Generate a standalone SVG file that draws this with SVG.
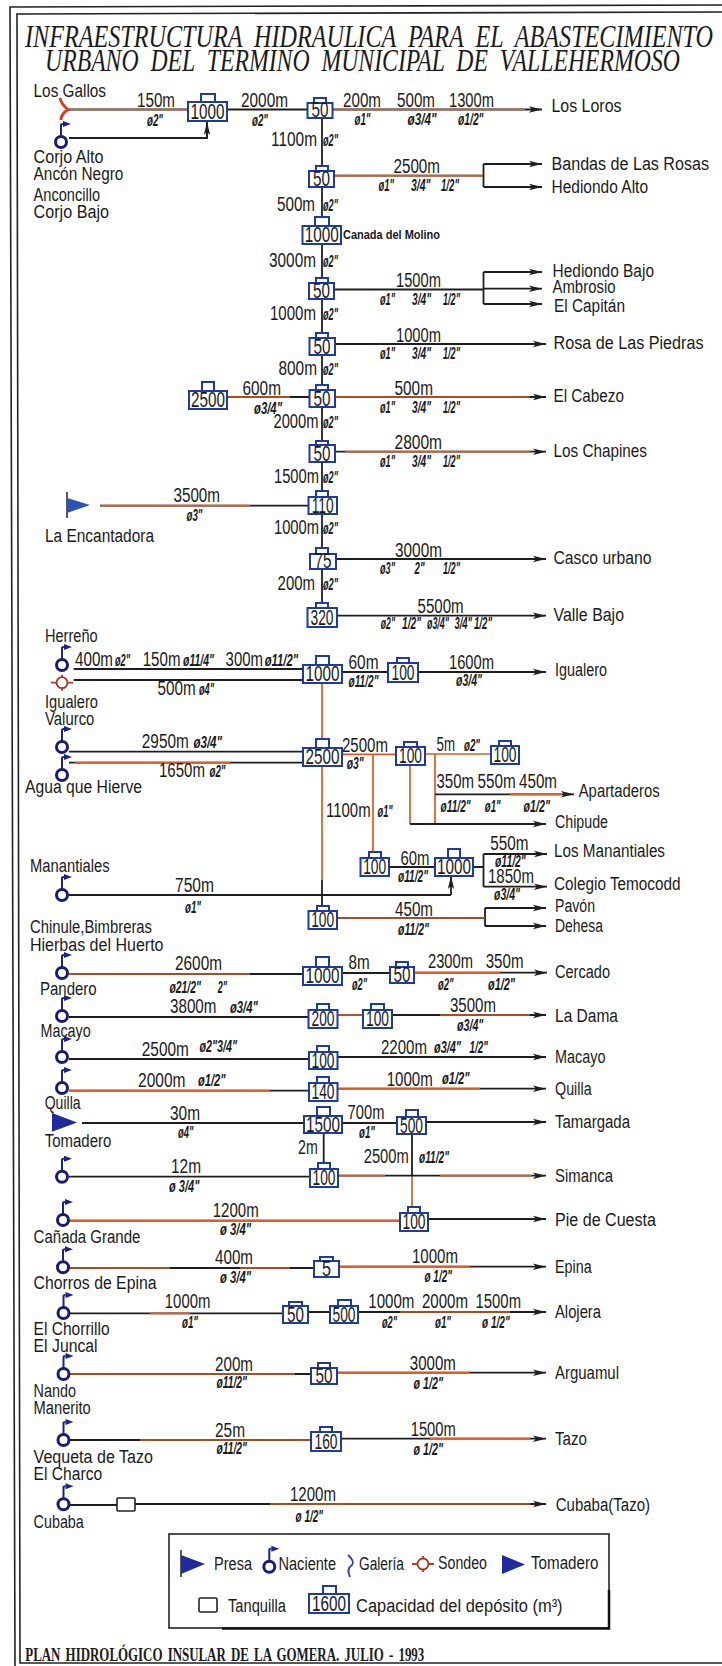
<svg xmlns="http://www.w3.org/2000/svg" width="722" height="1666" viewBox="0 0 722 1666">
<style>
text{font-family:"Liberation Sans",Arial,sans-serif;fill:#1a1a1a}
.ttl{font-family:"Liberation Serif","Times New Roman",serif;font-style:italic;font-size:32px;word-spacing:.25em}
.foot{font-family:"Liberation Serif","Times New Roman",serif;font-size:19px;font-weight:bold;word-spacing:.15em}
.m{font-size:19.5px}
.n{font-size:18px}
.d{font-size:17px;font-weight:bold;font-style:italic}
.s{font-size:12px;font-weight:bold}
.tv{font-size:22px;text-anchor:middle}
.tk{fill:#fff;stroke:#1c3aa8;stroke-width:2}
.p{fill:none;stroke:#1e1e1e;stroke-width:1.8}
.a{fill:none;stroke:#1e1e1e;stroke-width:1.8;marker-end:url(#ah)}
.h{fill:none;stroke:#dc5a22;stroke-width:1.7}
.f{fill:none;stroke:#222;stroke-width:1.6}
.bl{fill:#1f2a9c}
</style>
<defs>
<marker id="ah" markerUnits="userSpaceOnUse" markerWidth="14" markerHeight="8" refX="13" refY="4" orient="auto"><path d="M0 .8L13 4 0 7.2 3 4Z" fill="#1e1e1e"/></marker>
<g id="nac"><path d="M0-6V-17Q0-18 2-18" fill="none" stroke="#1b2488" stroke-width="2"/><path d="M2-21L10-18 2-15Z" fill="#1b2488"/><circle r="5.5" fill="#fff" stroke="#161c78" stroke-width="3"/></g>
<g id="son"><circle r="5.5" fill="#fff" stroke="#a8321e" stroke-width="1.8"/><path d="M-11 0H-5.5M5.5 0H11M0-8V-5.5M0 5.5V8" stroke="#b93a22" stroke-width="1.8" fill="none"/></g>
</defs>
<rect width="722" height="1666" fill="#fff"/>
<g id="frame">
<path class="f" d="M722 5L10 7 15 1666"/>
<path class="f" d="M722 12L17 14 20 1663H722"/>
</g>
<g id="title">
<text class="ttl" x="25" y="46.5" textLength="688" lengthAdjust="spacingAndGlyphs">INFRAESTRUCTURA HIDRAULICA PARA EL ABASTECIMIENTO</text>
<text class="ttl" x="45" y="71" textLength="635" lengthAdjust="spacingAndGlyphs">URBANO DEL TERMINO MUNICIPAL DE VALLEHERMOSO</text>
</g>
<g id="connectors">
<path class="a" d="M69 109.5H542"/>
<path class="h" d="M69 109.5H188M334 109.5H525"/>
<path class="p" d="M69 138H207V124"/><path class="a" d="M207 138V122"/>
<path class="p" d="M322 118V608"/>
<path class="p" d="M334 175.7H483.5M483.5 164V187"/><path class="a" d="M483.5 164H542"/><path class="a" d="M483.5 187H542"/>
<path class="h" d="M334 175.7H483"/>
<path class="p" d="M334 289.5H483.5M483.5 272V304"/><path class="a" d="M483.5 272H542"/><path class="a" d="M483.5 288.7H542"/><path class="a" d="M483.5 304H542"/>
<path class="a" d="M334 344H546"/>
<path class="a" d="M227 397H546"/><path class="h" d="M227 397H290M334 397H530"/>
<path class="a" d="M334 451.7H546"/><path class="h" d="M345 451.7H530"/>
<path class="p" d="M100 505.7H309"/><path class="h" d="M100 505.7H250"/>
<path class="a" d="M334 559H546"/>
<path class="a" d="M337 615.7H546"/>
<path class="p" d="M73.7 669H303M73.7 680H303"/>
<path class="a" d="M342 672H388M418 672H546"/>
<path class="h" d="M322 683V748M322 766V880"/>
<path class="p" d="M322 880V906"/>
<path class="p" d="M69 751.7H303M69 762.7H303"/><path class="h" d="M75 762.7H230"/>
<path class="h" d="M342 754.3H396M425 754H491M435 754V824M410 765V824M373 754V852"/>
<path class="a" d="M410 824H546"/>
<path class="a" d="M435 794.3H574"/><path class="h" d="M510 794.3H562"/>
<path class="p" d="M69 895H451"/><path class="a" d="M451 895V876"/>
<path class="p" d="M389 867H435M473 867H483.5M483.5 854V886.7"/>
<path class="a" d="M483.5 854H547"/><path class="a" d="M483.5 886.7H547"/>
<path class="p" d="M337 918H485M485 908V926"/><path class="h" d="M337 918H485"/>
<path class="a" d="M485 908H546"/><path class="a" d="M485 926H546"/>
<path class="p" d="M69 974H303M342 973H390"/><path class="h" d="M69 974H250"/>
<path class="a" d="M414 972.7H547"/><path class="h" d="M414 972.7H500"/>
<path class="p" d="M69 1017H309M337 1015H363"/><path class="h" d="M337 1015H363"/>
<path class="a" d="M392 1015H546"/><path class="h" d="M440 1015H530"/>
<path class="p" d="M69 1059H309"/><path class="a" d="M337 1057H546"/>
<path class="p" d="M69 1090.7H309"/><path class="h" d="M69 1090.7H270"/>
<path class="a" d="M337 1088.7H546"/><path class="h" d="M337 1088.7H480"/>
<path class="p" d="M82 1123H304M342 1123H397"/><path class="a" d="M426 1122H546"/>
<path class="p" d="M323.7 1133V1163M412 1134V1176"/><path class="h" d="M412 1176V1207"/>
<path class="p" d="M69 1176.7H310"/><path class="a" d="M338 1175.7H546"/><path class="h" d="M338 1175.7H385M440 1175.7H532"/>
<path class="p" d="M69 1220.7H400"/><path class="h" d="M69 1220.7H400"/><path class="a" d="M428 1219H546"/>
<path class="p" d="M69 1268H314"/><path class="h" d="M69 1268H170M240 1268H290"/><path class="a" d="M339 1266.7H546"/><path class="h" d="M339 1266.7H470"/>
<path class="p" d="M69 1313.3H283M308 1312H330"/><path class="a" d="M358 1312H546"/><path class="h" d="M150 1313.3H190M400 1312H510"/>
<path class="p" d="M69 1374H311"/><path class="h" d="M69 1374H295"/><path class="a" d="M337 1372.7H546"/><path class="h" d="M337 1372.7H470"/>
<path class="p" d="M69 1440H311"/><path class="h" d="M140 1440H311"/><path class="a" d="M341 1438.7H546"/><path class="h" d="M430 1438.7H530"/>
<path class="p" d="M69 1505H117"/><path class="a" d="M135 1504H546"/><path class="h" d="M270 1504H530"/>
</g>
<g id="pipe-labels">
<text class="m" x="137" y="107" textLength="38" lengthAdjust="spacingAndGlyphs">150m</text>
<text class="d" x="147" y="126" textLength="16" lengthAdjust="spacingAndGlyphs">ø2"</text>
<text class="m" x="241" y="107" textLength="47" lengthAdjust="spacingAndGlyphs">2000m</text>
<text class="d" x="252" y="126" textLength="16" lengthAdjust="spacingAndGlyphs">ø2"</text>
<text class="m" x="343" y="107" textLength="38" lengthAdjust="spacingAndGlyphs">200m</text>
<text class="d" x="354.5" y="125" textLength="16" lengthAdjust="spacingAndGlyphs">ø1"</text>
<text class="m" x="397" y="107" textLength="38" lengthAdjust="spacingAndGlyphs">500m</text>
<text class="d" x="407.5" y="125" textLength="29" lengthAdjust="spacingAndGlyphs">ø3/4"</text>
<text class="m" x="449" y="107" textLength="45" lengthAdjust="spacingAndGlyphs">1300m</text>
<text class="d" x="458" y="125" textLength="25.5" lengthAdjust="spacingAndGlyphs">ø1/2"</text>
<text class="m" x="271" y="146" textLength="46" lengthAdjust="spacingAndGlyphs">1100m</text>
<text class="d" x="323" y="146" textLength="15" lengthAdjust="spacingAndGlyphs">ø2"</text>
<text class="m" x="393.5" y="173" textLength="46.5" lengthAdjust="spacingAndGlyphs">2500m</text>
<text class="d" x="378.5" y="191" textLength="15.5" lengthAdjust="spacingAndGlyphs">ø1"</text>
<text class="d" x="411" y="191" textLength="19.5" lengthAdjust="spacingAndGlyphs">3/4"</text>
<text class="d" x="441" y="191" textLength="18" lengthAdjust="spacingAndGlyphs">1/2"</text>
<text class="m" x="277" y="211" textLength="38" lengthAdjust="spacingAndGlyphs">500m</text>
<text class="d" x="323" y="211" textLength="15" lengthAdjust="spacingAndGlyphs">ø2"</text>
<text class="m" x="269" y="267" textLength="47" lengthAdjust="spacingAndGlyphs">3000m</text>
<text class="d" x="323" y="267" textLength="15" lengthAdjust="spacingAndGlyphs">ø2"</text>
<text class="m" x="396" y="287" textLength="45" lengthAdjust="spacingAndGlyphs">1500m</text>
<text class="d" x="380" y="305" textLength="15" lengthAdjust="spacingAndGlyphs">ø1"</text>
<text class="d" x="412" y="305" textLength="19" lengthAdjust="spacingAndGlyphs">3/4"</text>
<text class="d" x="443" y="305" textLength="17" lengthAdjust="spacingAndGlyphs">1/2"</text>
<text class="m" x="270" y="320" textLength="46" lengthAdjust="spacingAndGlyphs">1000m</text>
<text class="d" x="323" y="320" textLength="15" lengthAdjust="spacingAndGlyphs">ø2"</text>
<text class="m" x="396" y="342" textLength="45" lengthAdjust="spacingAndGlyphs">1000m</text>
<text class="d" x="380" y="359" textLength="15" lengthAdjust="spacingAndGlyphs">ø1"</text>
<text class="d" x="412" y="359" textLength="19" lengthAdjust="spacingAndGlyphs">3/4"</text>
<text class="d" x="443" y="359" textLength="17" lengthAdjust="spacingAndGlyphs">1/2"</text>
<text class="m" x="278.5" y="375" textLength="38.5" lengthAdjust="spacingAndGlyphs">800m</text>
<text class="d" x="323" y="375" textLength="15" lengthAdjust="spacingAndGlyphs">ø2"</text>
<text class="m" x="394.5" y="395" textLength="38.5" lengthAdjust="spacingAndGlyphs">500m</text>
<text class="d" x="380" y="413" textLength="15" lengthAdjust="spacingAndGlyphs">ø1"</text>
<text class="d" x="412" y="413" textLength="19" lengthAdjust="spacingAndGlyphs">3/4"</text>
<text class="d" x="443" y="413" textLength="17" lengthAdjust="spacingAndGlyphs">1/2"</text>
<text class="m" x="242.5" y="395" textLength="38.5" lengthAdjust="spacingAndGlyphs">600m</text>
<text class="d" x="254" y="414" textLength="28" lengthAdjust="spacingAndGlyphs">ø3/4"</text>
<text class="m" x="273.5" y="428" textLength="45" lengthAdjust="spacingAndGlyphs">2000m</text>
<text class="d" x="323" y="428" textLength="15" lengthAdjust="spacingAndGlyphs">ø2"</text>
<text class="m" x="394.5" y="449" textLength="47.5" lengthAdjust="spacingAndGlyphs">2800m</text>
<text class="d" x="380" y="467" textLength="15" lengthAdjust="spacingAndGlyphs">ø1"</text>
<text class="d" x="412" y="467" textLength="19" lengthAdjust="spacingAndGlyphs">3/4"</text>
<text class="d" x="443" y="467" textLength="17" lengthAdjust="spacingAndGlyphs">1/2"</text>
<text class="m" x="274" y="483" textLength="45" lengthAdjust="spacingAndGlyphs">1500m</text>
<text class="d" x="323" y="483" textLength="15" lengthAdjust="spacingAndGlyphs">ø2"</text>
<text class="m" x="173.5" y="502" textLength="46.5" lengthAdjust="spacingAndGlyphs">3500m</text>
<text class="d" x="186.5" y="521" textLength="16" lengthAdjust="spacingAndGlyphs">ø3"</text>
<text class="m" x="274" y="534" textLength="45" lengthAdjust="spacingAndGlyphs">1000m</text>
<text class="d" x="323" y="534" textLength="15" lengthAdjust="spacingAndGlyphs">ø2"</text>
<text class="m" x="395" y="557" textLength="47" lengthAdjust="spacingAndGlyphs">3000m</text>
<text class="d" x="380" y="574" textLength="15" lengthAdjust="spacingAndGlyphs">ø3"</text>
<text class="d" x="414.5" y="574" textLength="10" lengthAdjust="spacingAndGlyphs">2"</text>
<text class="d" x="443" y="574" textLength="17" lengthAdjust="spacingAndGlyphs">1/2"</text>
<text class="m" x="277.6" y="590" textLength="37.5" lengthAdjust="spacingAndGlyphs">200m</text>
<text class="d" x="323" y="590" textLength="15" lengthAdjust="spacingAndGlyphs">ø2"</text>
<text class="m" x="417.6" y="613" textLength="46" lengthAdjust="spacingAndGlyphs">5500m</text>
<text class="d" x="380.8" y="629" textLength="14.2" lengthAdjust="spacingAndGlyphs">ø2"</text>
<text class="d" x="402" y="629" textLength="19" lengthAdjust="spacingAndGlyphs">1/2"</text>
<text class="d" x="427" y="629" textLength="22" lengthAdjust="spacingAndGlyphs">ø3/4"</text>
<text class="d" x="454.4" y="629" textLength="17.6" lengthAdjust="spacingAndGlyphs">3/4"</text>
<text class="d" x="474" y="629" textLength="18" lengthAdjust="spacingAndGlyphs">1/2"</text>
<text class="m" x="75" y="666" textLength="38" lengthAdjust="spacingAndGlyphs">400m</text>
<text class="d" x="115" y="666" textLength="15" lengthAdjust="spacingAndGlyphs">ø2"</text>
<text class="m" x="142.7" y="666" textLength="37.8" lengthAdjust="spacingAndGlyphs">150m</text>
<text class="d" x="183" y="666" textLength="31" lengthAdjust="spacingAndGlyphs">ø11/4"</text>
<text class="m" x="225.6" y="666" textLength="37.4" lengthAdjust="spacingAndGlyphs">300m</text>
<text class="d" x="264.7" y="666" textLength="33.3" lengthAdjust="spacingAndGlyphs">ø11/2"</text>
<text class="m" x="157.5" y="695" textLength="38.2" lengthAdjust="spacingAndGlyphs">500m</text>
<text class="d" x="199" y="695" textLength="15" lengthAdjust="spacingAndGlyphs">ø4"</text>
<text class="m" x="348.5" y="669" textLength="30" lengthAdjust="spacingAndGlyphs">60m</text>
<text class="d" x="348.5" y="686.6" textLength="30" lengthAdjust="spacingAndGlyphs">ø11/2"</text>
<text class="m" x="449" y="669" textLength="45" lengthAdjust="spacingAndGlyphs">1600m</text>
<text class="d" x="456" y="686" textLength="26" lengthAdjust="spacingAndGlyphs">ø3/4"</text>
<text class="m" x="141.8" y="748" textLength="47" lengthAdjust="spacingAndGlyphs">2950m</text>
<text class="d" x="193.4" y="748" textLength="28.6" lengthAdjust="spacingAndGlyphs">ø3/4"</text>
<text class="m" x="159" y="777" textLength="46" lengthAdjust="spacingAndGlyphs">1650m</text>
<text class="d" x="209.5" y="777" textLength="16" lengthAdjust="spacingAndGlyphs">ø2"</text>
<text class="m" x="342" y="751.7" textLength="46" lengthAdjust="spacingAndGlyphs">2500m</text>
<text class="d" x="346.7" y="769" textLength="17" lengthAdjust="spacingAndGlyphs">ø3"</text>
<text class="m" x="436.5" y="751" textLength="18.5" lengthAdjust="spacingAndGlyphs">5m</text>
<text class="d" x="464" y="751" textLength="16" lengthAdjust="spacingAndGlyphs">ø2"</text>
<text class="m" x="436.5" y="788" textLength="37.5" lengthAdjust="spacingAndGlyphs">350m</text>
<text class="m" x="477.5" y="788" textLength="38.2" lengthAdjust="spacingAndGlyphs">550m</text>
<text class="m" x="519" y="788" textLength="38" lengthAdjust="spacingAndGlyphs">450m</text>
<text class="d" x="440.6" y="811.7" textLength="30" lengthAdjust="spacingAndGlyphs">ø11/2"</text>
<text class="d" x="484.8" y="811.7" textLength="15.7" lengthAdjust="spacingAndGlyphs">ø1"</text>
<text class="d" x="523.5" y="811.7" textLength="26.5" lengthAdjust="spacingAndGlyphs">ø1/2"</text>
<text class="m" x="326" y="816.7" textLength="44.6" lengthAdjust="spacingAndGlyphs">1100m</text>
<text class="d" x="377.5" y="816.7" textLength="15.2" lengthAdjust="spacingAndGlyphs">ø1"</text>
<text class="m" x="175" y="891.7" textLength="39" lengthAdjust="spacingAndGlyphs">750m</text>
<text class="d" x="185" y="913" textLength="16" lengthAdjust="spacingAndGlyphs">ø1"</text>
<text class="m" x="400.5" y="865" textLength="29" lengthAdjust="spacingAndGlyphs">60m</text>
<text class="d" x="398" y="881.7" textLength="30" lengthAdjust="spacingAndGlyphs">ø11/2"</text>
<text class="m" x="490.3" y="850" textLength="38.2" lengthAdjust="spacingAndGlyphs">550m</text>
<text class="d" x="495" y="866.7" textLength="30.8" lengthAdjust="spacingAndGlyphs">ø11/2"</text>
<text class="m" x="488" y="883" textLength="46" lengthAdjust="spacingAndGlyphs">1850m</text>
<text class="d" x="494" y="900" textLength="26" lengthAdjust="spacingAndGlyphs">ø3/4"</text>
<text class="m" x="395" y="916" textLength="38" lengthAdjust="spacingAndGlyphs">450m</text>
<text class="d" x="398" y="935" textLength="31" lengthAdjust="spacingAndGlyphs">ø11/2"</text>
<text class="m" x="175" y="970" textLength="47" lengthAdjust="spacingAndGlyphs">2600m</text>
<text class="d" x="169.4" y="993" textLength="31.6" lengthAdjust="spacingAndGlyphs">ø21/2"</text>
<text class="d" x="217.8" y="993" textLength="9.2" lengthAdjust="spacingAndGlyphs">2"</text>
<text class="m" x="348.5" y="969" textLength="21.2" lengthAdjust="spacingAndGlyphs">8m</text>
<text class="d" x="352" y="990" textLength="15" lengthAdjust="spacingAndGlyphs">ø2"</text>
<text class="m" x="428" y="968" textLength="45" lengthAdjust="spacingAndGlyphs">2300m</text>
<text class="d" x="438" y="990" textLength="15.5" lengthAdjust="spacingAndGlyphs">ø2"</text>
<text class="m" x="485.7" y="968" textLength="37.8" lengthAdjust="spacingAndGlyphs">350m</text>
<text class="d" x="488" y="990" textLength="27" lengthAdjust="spacingAndGlyphs">ø1/2"</text>
<text class="m" x="170" y="1013" textLength="46.4" lengthAdjust="spacingAndGlyphs">3800m</text>
<text class="d" x="230" y="1013" textLength="27.8" lengthAdjust="spacingAndGlyphs">ø3/4"</text>
<text class="m" x="450" y="1011.7" textLength="46" lengthAdjust="spacingAndGlyphs">3500m</text>
<text class="d" x="457" y="1030.7" textLength="26.4" lengthAdjust="spacingAndGlyphs">ø3/4"</text>
<text class="m" x="141.8" y="1055.7" textLength="47" lengthAdjust="spacingAndGlyphs">2500m</text>
<text class="d" x="199.4" y="1052" textLength="37.6" lengthAdjust="spacingAndGlyphs">ø2"3/4"</text>
<text class="m" x="381" y="1054" textLength="46" lengthAdjust="spacingAndGlyphs">2200m</text>
<text class="d" x="434" y="1052.7" textLength="27" lengthAdjust="spacingAndGlyphs">ø3/4"</text>
<text class="d" x="469.6" y="1052.7" textLength="18.4" lengthAdjust="spacingAndGlyphs">1/2"</text>
<text class="m" x="138" y="1086.7" textLength="47.5" lengthAdjust="spacingAndGlyphs">2000m</text>
<text class="d" x="198" y="1086" textLength="27.6" lengthAdjust="spacingAndGlyphs">ø1/2"</text>
<text class="m" x="386.7" y="1086" textLength="46.1" lengthAdjust="spacingAndGlyphs">1000m</text>
<text class="d" x="442" y="1084" textLength="27.6" lengthAdjust="spacingAndGlyphs">ø1/2"</text>
<text class="m" x="170" y="1120" textLength="30" lengthAdjust="spacingAndGlyphs">30m</text>
<text class="d" x="178" y="1138" textLength="15.4" lengthAdjust="spacingAndGlyphs">ø4"</text>
<text class="m" x="347.6" y="1119" textLength="36.8" lengthAdjust="spacingAndGlyphs">700m</text>
<text class="d" x="359" y="1137.7" textLength="16" lengthAdjust="spacingAndGlyphs">ø1"</text>
<text class="m" x="298" y="1154" textLength="19.7" lengthAdjust="spacingAndGlyphs">2m</text>
<text class="m" x="363.7" y="1163" textLength="45.1" lengthAdjust="spacingAndGlyphs">2500m</text>
<text class="d" x="419" y="1163" textLength="30" lengthAdjust="spacingAndGlyphs">ø11/2"</text>
<text class="m" x="171" y="1173" textLength="30" lengthAdjust="spacingAndGlyphs">12m</text>
<text class="d" x="169" y="1191.7" textLength="30.4" lengthAdjust="spacingAndGlyphs">ø 3/4"</text>
<text class="m" x="212.7" y="1217" textLength="46" lengthAdjust="spacingAndGlyphs">1200m</text>
<text class="d" x="220" y="1235" textLength="31" lengthAdjust="spacingAndGlyphs">ø 3/4"</text>
<text class="m" x="215" y="1264" textLength="38" lengthAdjust="spacingAndGlyphs">400m</text>
<text class="d" x="220" y="1282.7" textLength="31" lengthAdjust="spacingAndGlyphs">ø 3/4"</text>
<text class="m" x="412" y="1262.7" textLength="46" lengthAdjust="spacingAndGlyphs">1000m</text>
<text class="d" x="424.5" y="1281.7" textLength="27.5" lengthAdjust="spacingAndGlyphs">ø 1/2"</text>
<text class="m" x="164.8" y="1308" textLength="45.6" lengthAdjust="spacingAndGlyphs">1000m</text>
<text class="d" x="182" y="1328" textLength="16" lengthAdjust="spacingAndGlyphs">ø1"</text>
<text class="m" x="368.3" y="1308" textLength="46.1" lengthAdjust="spacingAndGlyphs">1000m</text>
<text class="m" x="422" y="1308" textLength="46" lengthAdjust="spacingAndGlyphs">2000m</text>
<text class="m" x="475.6" y="1308" textLength="45.4" lengthAdjust="spacingAndGlyphs">1500m</text>
<text class="d" x="382" y="1328" textLength="15" lengthAdjust="spacingAndGlyphs">ø2"</text>
<text class="d" x="435" y="1328" textLength="16" lengthAdjust="spacingAndGlyphs">ø1"</text>
<text class="d" x="482" y="1328" textLength="27.7" lengthAdjust="spacingAndGlyphs">ø 1/2"</text>
<text class="m" x="215" y="1370.7" textLength="38" lengthAdjust="spacingAndGlyphs">200m</text>
<text class="d" x="216.4" y="1388" textLength="30.6" lengthAdjust="spacingAndGlyphs">ø11/2"</text>
<text class="m" x="409.8" y="1370" textLength="46" lengthAdjust="spacingAndGlyphs">3000m</text>
<text class="d" x="413.4" y="1389" textLength="29.6" lengthAdjust="spacingAndGlyphs">ø 1/2"</text>
<text class="m" x="215" y="1436.7" textLength="30" lengthAdjust="spacingAndGlyphs">25m</text>
<text class="d" x="216.4" y="1454" textLength="30.6" lengthAdjust="spacingAndGlyphs">ø11/2"</text>
<text class="m" x="410.7" y="1436" textLength="45.1" lengthAdjust="spacingAndGlyphs">1500m</text>
<text class="d" x="413.4" y="1455" textLength="29.6" lengthAdjust="spacingAndGlyphs">ø 1/2"</text>
<text class="m" x="290" y="1501" textLength="46" lengthAdjust="spacingAndGlyphs">1200m</text>
<text class="d" x="295.6" y="1521.7" textLength="27.4" lengthAdjust="spacingAndGlyphs">ø 1/2"</text>
</g>
<g id="dep-1"><path class="tk" d="M201 102V94H215V102"/><rect class="tk" x="188" y="102" width="39" height="19"/><text class="tv" x="207.5" y="119" textLength="34" lengthAdjust="spacingAndGlyphs">1000</text></g>
<g id="dep-2"><path class="tk" d="M314 103V98H326V103"/><rect class="tk" x="307.5" y="103" width="25" height="15"/><text class="tv" x="320" y="117" textLength="17" lengthAdjust="spacingAndGlyphs">50</text></g>
<g id="dep-3"><path class="tk" d="M316 171V166H328V171"/><rect class="tk" x="309" y="171" width="25" height="16"/><text class="tv" x="321.5" y="186" textLength="17" lengthAdjust="spacingAndGlyphs">50</text></g>
<g id="dep-4"><path class="tk" d="M315 226V217H329V226"/><rect class="tk" x="302.5" y="226" width="38.5" height="18"/><text class="tv" x="321.7" y="242" textLength="34" lengthAdjust="spacingAndGlyphs">1000</text><text class="s" x="343" y="239" textLength="97" lengthAdjust="spacingAndGlyphs">Canada del Molino</text></g>
<g id="dep-5"><path class="tk" d="M316 283V278H328V283"/><rect class="tk" x="309" y="283" width="25" height="16"/><text class="tv" x="321.5" y="298" textLength="17" lengthAdjust="spacingAndGlyphs">50</text></g>
<g id="dep-6"><path class="tk" d="M316 338V333H328V338"/><rect class="tk" x="309.5" y="338" width="25.5" height="17"/><text class="tv" x="322" y="354" textLength="17" lengthAdjust="spacingAndGlyphs">50</text></g>
<g id="dep-7"><path class="tk" d="M316 390V385H328V390"/><rect class="tk" x="309.5" y="390" width="25.5" height="17"/><text class="tv" x="322" y="406" textLength="17" lengthAdjust="spacingAndGlyphs">50</text></g>
<g id="dep-8"><path class="tk" d="M202 391V382H214V391"/><rect class="tk" x="189" y="391" width="38" height="18"/><text class="tv" x="208" y="407" textLength="34" lengthAdjust="spacingAndGlyphs">2500</text></g>
<g id="dep-9"><path class="tk" d="M316 445V441H328V445"/><rect class="tk" x="309.5" y="445" width="25.5" height="17"/><text class="tv" x="322" y="461" textLength="17" lengthAdjust="spacingAndGlyphs">50</text></g>
<g id="dep-10"><path class="tk" d="M316 497V491H328V497"/><rect class="tk" x="308.5" y="497" width="28.5" height="17"/><text class="tv" x="322.7" y="513" textLength="22" lengthAdjust="spacingAndGlyphs">110</text></g>
<g id="dep-11"><path class="tk" d="M316 554V548H328V554"/><rect class="tk" x="310" y="554" width="26" height="15"/><text class="tv" x="323" y="568" textLength="17" lengthAdjust="spacingAndGlyphs">75</text></g>
<g id="dep-12"><path class="tk" d="M316 608V603H328V608"/><rect class="tk" x="307.5" y="608" width="29.5" height="19"/><text class="tv" x="322" y="625" textLength="23" lengthAdjust="spacingAndGlyphs">320</text></g>
<g id="dep-13"><path class="tk" d="M316 665V656H329V665"/><rect class="tk" x="303" y="665" width="39" height="18"/><text class="tv" x="322.5" y="681" textLength="34" lengthAdjust="spacingAndGlyphs">1000</text></g>
<g id="dep-14"><path class="tk" d="M397 663V658H409V663"/><rect class="tk" x="388" y="663" width="30" height="19"/><text class="tv" x="403" y="680" textLength="23" lengthAdjust="spacingAndGlyphs">100</text></g>
<g id="dep-15"><path class="tk" d="M316 748V739H329V748"/><rect class="tk" x="303" y="748" width="39" height="18"/><text class="tv" x="322.5" y="764" textLength="34" lengthAdjust="spacingAndGlyphs">2500</text></g>
<g id="dep-16"><path class="tk" d="M404 747V742H417V747"/><rect class="tk" x="396" y="747" width="29" height="18"/><text class="tv" x="410.5" y="763" textLength="23" lengthAdjust="spacingAndGlyphs">100</text></g>
<g id="dep-17"><path class="tk" d="M499 746V741H511V746"/><rect class="tk" x="491" y="746" width="28" height="18"/><text class="tv" x="505" y="762" textLength="23" lengthAdjust="spacingAndGlyphs">100</text></g>
<g id="dep-18"><path class="tk" d="M369 858V852H381V858"/><rect class="tk" x="360.5" y="858" width="28.5" height="18"/><text class="tv" x="374.7" y="874" textLength="23" lengthAdjust="spacingAndGlyphs">100</text></g>
<g id="dep-19"><path class="tk" d="M448 858V849H460V858"/><rect class="tk" x="435" y="858" width="38" height="18"/><text class="tv" x="454" y="874" textLength="34" lengthAdjust="spacingAndGlyphs">1000</text></g>
<g id="dep-20"><path class="tk" d="M317 911V906H329V911"/><rect class="tk" x="308.5" y="911" width="28.5" height="18"/><text class="tv" x="322.7" y="927" textLength="23" lengthAdjust="spacingAndGlyphs">100</text></g>
<g id="dep-21"><path class="tk" d="M316 967V957H329V967"/><rect class="tk" x="303" y="967" width="39" height="18"/><text class="tv" x="322.5" y="983" textLength="34" lengthAdjust="spacingAndGlyphs">1000</text></g>
<g id="dep-22"><path class="tk" d="M396 967V962H408V967"/><rect class="tk" x="390" y="967" width="24" height="16"/><text class="tv" x="402" y="982" textLength="17" lengthAdjust="spacingAndGlyphs">50</text></g>
<g id="dep-23"><path class="tk" d="M317 1010V1004H329V1010"/><rect class="tk" x="308.5" y="1010" width="29" height="18"/><text class="tv" x="323" y="1026" textLength="23" lengthAdjust="spacingAndGlyphs">200</text></g>
<g id="dep-24"><path class="tk" d="M371 1010V1004H384V1010"/><rect class="tk" x="363" y="1010" width="29" height="18"/><text class="tv" x="377.5" y="1026" textLength="23" lengthAdjust="spacingAndGlyphs">100</text></g>
<g id="dep-25"><path class="tk" d="M317 1052V1046H329V1052"/><rect class="tk" x="309" y="1052" width="28.5" height="17"/><text class="tv" x="323" y="1068" textLength="23" lengthAdjust="spacingAndGlyphs">100</text></g>
<g id="dep-26"><path class="tk" d="M317 1083V1077H329V1083"/><rect class="tk" x="309" y="1083" width="28.5" height="18"/><text class="tv" x="323" y="1099" textLength="23" lengthAdjust="spacingAndGlyphs">140</text></g>
<g id="dep-27"><path class="tk" d="M317 1116V1107H330V1116"/><rect class="tk" x="304" y="1116" width="38" height="17"/><text class="tv" x="323" y="1132" textLength="34" lengthAdjust="spacingAndGlyphs">1500</text></g>
<g id="dep-28"><path class="tk" d="M406 1117V1110H418V1117"/><rect class="tk" x="397" y="1117" width="29" height="17"/><text class="tv" x="411.5" y="1133" textLength="23" lengthAdjust="spacingAndGlyphs">500</text></g>
<g id="dep-29"><path class="tk" d="M318 1169V1163H330V1169"/><rect class="tk" x="310" y="1169" width="28" height="18"/><text class="tv" x="324" y="1185" textLength="23" lengthAdjust="spacingAndGlyphs">100</text></g>
<g id="dep-30"><path class="tk" d="M408 1213V1207H420V1213"/><rect class="tk" x="400" y="1213" width="28" height="18"/><text class="tv" x="414" y="1229" textLength="23" lengthAdjust="spacingAndGlyphs">100</text></g>
<g id="dep-31"><path class="tk" d="M320 1261V1257H333V1261"/><rect class="tk" x="314" y="1261" width="25" height="16"/><text class="tv" x="326.5" y="1276" textLength="9" lengthAdjust="spacingAndGlyphs">5</text></g>
<g id="dep-32"><path class="tk" d="M289 1306V1302H302V1306"/><rect class="tk" x="283" y="1306" width="25" height="17"/><text class="tv" x="295.5" y="1322" textLength="17" lengthAdjust="spacingAndGlyphs">50</text></g>
<g id="dep-33"><path class="tk" d="M338 1306V1300H351V1306"/><rect class="tk" x="330" y="1306" width="28" height="17"/><text class="tv" x="344" y="1322" textLength="23" lengthAdjust="spacingAndGlyphs">500</text></g>
<g id="dep-34"><path class="tk" d="M318 1368V1363H330V1368"/><rect class="tk" x="311" y="1368" width="26" height="16"/><text class="tv" x="324" y="1383" textLength="17" lengthAdjust="spacingAndGlyphs">50</text></g>
<g id="dep-35"><path class="tk" d="M320 1432V1427H332V1432"/><rect class="tk" x="311" y="1432" width="30" height="19"/><text class="tv" x="326" y="1449" textLength="23" lengthAdjust="spacingAndGlyphs">160</text></g>
<g id="tanquilla"><rect x="117" y="1498" width="18" height="13" rx="1" fill="#fff" stroke="#222" stroke-width="1.6"/></g>
<g id="src-los-gallos"><path d="M60 98Q61 104 68 109.5Q61 114 61 120" fill="none" stroke="#d63a20" stroke-width="2.8"/><text class="n" x="33.6" y="97" textLength="72.4" lengthAdjust="spacingAndGlyphs">Los Gallos</text></g>
<g id="src-corjo"><use href="#nac" x="61" y="142"/><text class="n" x="33.6" y="163" textLength="70" lengthAdjust="spacingAndGlyphs">Corjo Alto</text><text class="n" x="33.6" y="180" textLength="89.8" lengthAdjust="spacingAndGlyphs">Ancón Negro</text><text class="n" x="33.6" y="201" textLength="66.4" lengthAdjust="spacingAndGlyphs">Anconcillo</text><text class="n" x="33.6" y="218" textLength="75.4" lengthAdjust="spacingAndGlyphs">Corjo Bajo</text></g>
<g id="src-encantadora"><path d="M67 492V518" stroke="#222" stroke-width="1.5"/><path d="M67 498L90 505 67 513Z" fill="#2a52b8"/><text class="n" x="45" y="542" textLength="109" lengthAdjust="spacingAndGlyphs">La Encantadora</text></g>
<g id="src-herreno"><use href="#nac" x="62" y="665"/><text class="n" x="45" y="642" textLength="52.6" lengthAdjust="spacingAndGlyphs">Herreño</text></g>
<g id="src-igualero"><use href="#son" x="62" y="682.7"/><text class="n" x="45" y="707.7" textLength="53" lengthAdjust="spacingAndGlyphs">Igualero</text></g>
<g id="src-valurco"><use href="#nac" x="62" y="747"/><text class="n" x="45" y="725" textLength="49.4" lengthAdjust="spacingAndGlyphs">Valurco</text></g>
<g id="src-agua"><use href="#nac" x="62" y="775"/><text class="n" x="25" y="792.7" textLength="117" lengthAdjust="spacingAndGlyphs">Agua que Hierve</text></g>
<g id="src-manantiales"><use href="#nac" x="62" y="895"/><text class="n" x="30" y="872" textLength="79.6" lengthAdjust="spacingAndGlyphs">Manantiales</text></g>
<g id="src-pandero"><use href="#nac" x="62" y="973"/><text class="n" x="30" y="932.7" textLength="122" lengthAdjust="spacingAndGlyphs">Chinule,Bimbreras</text><text class="n" x="30" y="950.7" textLength="133.5" lengthAdjust="spacingAndGlyphs">Hierbas del Huerto</text><text class="n" x="40" y="995" textLength="56.7" lengthAdjust="spacingAndGlyphs">Pandero</text></g>
<g id="src-macayo"><use href="#nac" x="62" y="1016"/><text class="n" x="40.5" y="1036.7" textLength="50.2" lengthAdjust="spacingAndGlyphs">Macayo</text></g>
<g id="src-macayo2"><use href="#nac" x="62" y="1057"/></g>
<g id="src-quilla"><use href="#nac" x="62" y="1088"/><text class="n" x="44.7" y="1109" textLength="35.9" lengthAdjust="spacingAndGlyphs">Quilla</text></g>
<g id="src-tomadero"><path class="bl" d="M52 1113L77 1122.5 52 1131.7Z"/><text class="n" x="44.7" y="1146.7" textLength="66.7" lengthAdjust="spacingAndGlyphs">Tomadero</text></g>
<g id="src-simanca"><use href="#nac" x="62" y="1176.7"/></g>
<g id="src-canada"><use href="#nac" x="63" y="1220"/><text class="n" x="33.6" y="1242.7" textLength="106.8" lengthAdjust="spacingAndGlyphs">Cañada Grande</text></g>
<g id="src-chorros"><use href="#nac" x="63" y="1267.3"/><text class="n" x="33.6" y="1289" textLength="122.9" lengthAdjust="spacingAndGlyphs">Chorros de Epina</text></g>
<g id="src-chorrillo"><use href="#nac" x="63.5" y="1313"/><text class="n" x="33.6" y="1335" textLength="76" lengthAdjust="spacingAndGlyphs">El Chorrillo</text><text class="n" x="33.6" y="1351.7" textLength="64" lengthAdjust="spacingAndGlyphs">El Juncal</text></g>
<g id="src-nando"><use href="#nac" x="63.5" y="1374"/><text class="n" x="33.6" y="1397" textLength="42.4" lengthAdjust="spacingAndGlyphs">Nando</text><text class="n" x="33.6" y="1414" textLength="57.1" lengthAdjust="spacingAndGlyphs">Manerito</text></g>
<g id="src-vequeta"><use href="#nac" x="63.5" y="1440"/><text class="n" x="33.6" y="1463" textLength="119.3" lengthAdjust="spacingAndGlyphs">Vequeta de Tazo</text><text class="n" x="33.6" y="1480" textLength="68.6" lengthAdjust="spacingAndGlyphs">El Charco</text></g>
<g id="src-cubaba"><use href="#nac" x="63.5" y="1504.3"/><text class="n" x="33.6" y="1528" textLength="50.2" lengthAdjust="spacingAndGlyphs">Cubaba</text></g>
<g id="destinations">
<text class="n" x="551.5" y="112" textLength="70" lengthAdjust="spacingAndGlyphs">Los Loros</text>
<text class="n" x="551.5" y="170" textLength="157.5" lengthAdjust="spacingAndGlyphs">Bandas de Las Rosas</text>
<text class="n" x="551.5" y="193" textLength="96.5" lengthAdjust="spacingAndGlyphs">Hediondo Alto</text>
<text class="n" x="552.5" y="277" textLength="101.5" lengthAdjust="spacingAndGlyphs">Hediondo Bajo</text>
<text class="n" x="552.5" y="293" textLength="63" lengthAdjust="spacingAndGlyphs">Ambrosio</text>
<text class="n" x="554" y="312" textLength="71" lengthAdjust="spacingAndGlyphs">El Capitán</text>
<text class="n" x="553.5" y="349" textLength="150" lengthAdjust="spacingAndGlyphs">Rosa de Las Piedras</text>
<text class="n" x="553.5" y="402" textLength="70.5" lengthAdjust="spacingAndGlyphs">El Cabezo</text>
<text class="n" x="553.5" y="457" textLength="93.5" lengthAdjust="spacingAndGlyphs">Los Chapines</text>
<text class="n" x="553.5" y="564" textLength="98" lengthAdjust="spacingAndGlyphs">Casco urbano</text>
<text class="n" x="553.5" y="621" textLength="70.5" lengthAdjust="spacingAndGlyphs">Valle Bajo</text>
<text class="n" x="555" y="676" textLength="52" lengthAdjust="spacingAndGlyphs">Igualero</text>
<text class="n" x="578.7" y="796.7" textLength="81" lengthAdjust="spacingAndGlyphs">Apartaderos</text>
<text class="n" x="555" y="828" textLength="53" lengthAdjust="spacingAndGlyphs">Chipude</text>
<text class="n" x="554" y="857" textLength="111" lengthAdjust="spacingAndGlyphs">Los Manantiales</text>
<text class="n" x="554" y="890" textLength="126.5" lengthAdjust="spacingAndGlyphs">Colegio Temocodd</text>
<text class="n" x="555" y="911.7" textLength="40" lengthAdjust="spacingAndGlyphs">Pavón</text>
<text class="n" x="555" y="932" textLength="48" lengthAdjust="spacingAndGlyphs">Dehesa</text>
<text class="n" x="555" y="978" textLength="55" lengthAdjust="spacingAndGlyphs">Cercado</text>
<text class="n" x="555" y="1021.7" textLength="63" lengthAdjust="spacingAndGlyphs">La Dama</text>
<text class="n" x="555" y="1063" textLength="50.4" lengthAdjust="spacingAndGlyphs">Macayo</text>
<text class="n" x="555" y="1095" textLength="36.6" lengthAdjust="spacingAndGlyphs">Quilla</text>
<text class="n" x="555" y="1128" textLength="75" lengthAdjust="spacingAndGlyphs">Tamargada</text>
<text class="n" x="555" y="1181.7" textLength="58" lengthAdjust="spacingAndGlyphs">Simanca</text>
<text class="n" x="555" y="1226" textLength="101" lengthAdjust="spacingAndGlyphs">Pie de Cuesta</text>
<text class="n" x="555" y="1273" textLength="36.6" lengthAdjust="spacingAndGlyphs">Epina</text>
<text class="n" x="555" y="1318" textLength="46" lengthAdjust="spacingAndGlyphs">Alojera</text>
<text class="n" x="555" y="1379" textLength="64" lengthAdjust="spacingAndGlyphs">Arguamul</text>
<text class="n" x="555" y="1445" textLength="32" lengthAdjust="spacingAndGlyphs">Tazo</text>
<text class="n" x="555.7" y="1510.7" textLength="94.3" lengthAdjust="spacingAndGlyphs">Cubaba(Tazo)</text>
</g>
<g id="legend">
<rect x="169" y="1534" width="440" height="94" fill="none" stroke="#222" stroke-width="1.6"/>
<path d="M222 1628.5H609V1590" fill="none" stroke="#111" stroke-width="2.5"/>
<path d="M181 1550V1577" stroke="#222" stroke-width="1.5"/><path class="bl" d="M181 1555L205 1564 181 1574Z"/>
<text class="n" x="214" y="1570" textLength="38" lengthAdjust="spacingAndGlyphs">Presa</text>
<use href="#nac" x="269.3" y="1566.7"/>
<text class="n" x="278.5" y="1570" textLength="57.5" lengthAdjust="spacingAndGlyphs">Naciente</text>
<path d="M348 1555Q355 1561 352 1565Q346 1569 350 1577" fill="none" stroke="#2a3db0" stroke-width="1.8"/>
<text class="n" x="359" y="1570" textLength="45" lengthAdjust="spacingAndGlyphs">Galería</text>
<use href="#son" x="423" y="1564"/>
<text class="n" x="438" y="1569" textLength="49" lengthAdjust="spacingAndGlyphs">Sondeo</text>
<path class="bl" d="M502 1555L525 1564.5 502 1574Z"/>
<text class="n" x="531" y="1569" textLength="67.5" lengthAdjust="spacingAndGlyphs">Tomadero</text>
<rect x="199" y="1598" width="18" height="14" rx="1.5" fill="#fff" stroke="#222" stroke-width="1.6"/>
<text class="n" x="228" y="1611.7" textLength="58" lengthAdjust="spacingAndGlyphs">Tanquilla</text>
<path class="tk" d="M323 1594V1586H336V1594"/><rect class="tk" x="309" y="1594" width="40" height="19"/><text class="tv" x="329" y="1611" textLength="34" lengthAdjust="spacingAndGlyphs">1600</text>
<text class="n" x="356" y="1611.7" textLength="206.6" lengthAdjust="spacingAndGlyphs">Capacidad del depósito (m³)</text>
</g>
<g id="footer"><text class="foot" x="25.3" y="1660.7" textLength="399" lengthAdjust="spacingAndGlyphs">PLAN HIDROLÓGICO INSULAR DE LA GOMERA. JULIO - 1993</text></g>
</svg>
